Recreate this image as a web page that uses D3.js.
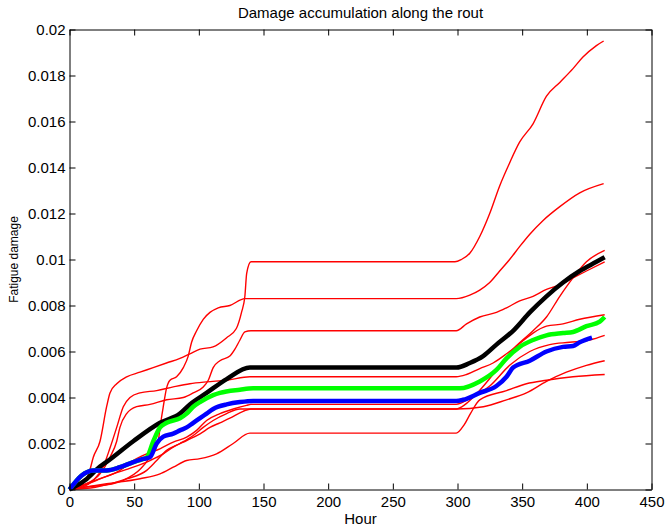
<!DOCTYPE html>
<html>
<head>
<meta charset="utf-8">
<script src="https://cdn.jsdelivr.net/npm/d3@7"></script>
<style>
  html, body { margin: 0; padding: 0; background: #fff; }
  svg { display: block; font-family: "Liberation Sans", Arial, sans-serif; }
</style>
</head>
<body>
<svg id="chart" width="667" height="527"></svg>
<script>
// ticks
const xTicks = [0, 50, 100, 150, 200, 250, 300, 350, 400, 450];
const yTicks = [0, 0.002, 0.004, 0.006, 0.008, 0.01, 0.012, 0.014, 0.016, 0.018, 0.02];
const yTickLabels = ["0", "0.002", "0.004", "0.006", "0.008", "0.01", "0.012", "0.014", "0.016", "0.018", "0.02"];

// individual runs, [hour, damage]
const run1 = [[0,0],[6,0.0001],[11,0.0003],[15,0.0007],[18.4,0.0014],[23.6,0.0021],[28.7,0.0036],[31.3,0.0042],[36.5,0.0046],[44.2,0.0049],[54.5,0.0051],[64.7,0.0053],[75,0.0055],[85.4,0.0057],[93,0.0059],[100.9,0.0061],[111,0.0062],[121.5,0.0066],[129,0.0070],[133,0.0077],[135.6,0.0084],[137,0.0094],[140.3,0.0099],[298,0.0099],[303,0.0100],[309.5,0.01027],[317.2,0.0110],[324.9,0.0120],[332.6,0.0132],[340.3,0.0142],[348,0.0151],[358.4,0.0159],[368.8,0.0171],[379.1,0.0177],[389.3,0.0183],[397,0.0188],[407.4,0.0193],[413,0.0195]];
const run2 = [[0,0],[10,0.0001],[20,0.00015],[28.7,0.0002],[41.6,0.0004],[55,0.0009],[62,0.0014],[68.6,0.0021],[70,0.0027],[72.5,0.0036],[75,0.0044],[77.7,0.00475],[82.8,0.0049],[88,0.0053],[91.8,0.0058],[94.4,0.0064],[98.3,0.0069],[103.4,0.0074],[108.6,0.0077],[115,0.0079],[124,0.0080],[135.6,0.0083],[140.3,0.0083],[299,0.0083],[309.5,0.00845],[317.2,0.00867],[324.9,0.0090],[332.6,0.0095],[340.3,0.0100],[348,0.01056],[355.9,0.0111],[366.2,0.0117],[379.1,0.0123],[394.5,0.0129],[413,0.0133]];
const run3 = [[0,0],[8,0.0001],[13.3,0.00025],[23.6,0.00068],[31.3,0.0014],[36.5,0.0021],[39,0.0027],[44.2,0.0033],[51.9,0.0036],[62.2,0.0037],[75.1,0.0039],[88,0.0040],[95.7,0.0042],[103.4,0.00446],[107.3,0.00475],[111.1,0.0053],[116.3,0.0056],[124,0.0058],[127.9,0.0061],[131.8,0.0065],[135.6,0.00685],[140.3,0.0069],[299,0.0069],[307,0.0072],[317.2,0.0075],[330.1,0.0077],[337.9,0.0079],[348.1,0.0082],[358.4,0.0084],[368.8,0.0087],[379.1,0.0089],[389.3,0.0092],[399.7,0.0095],[413.8,0.0099]];
const run4 = [[0,0],[10,0.0001],[18.4,0.0004],[26.1,0.001],[31.3,0.0018],[36.5,0.0027],[41.6,0.0036],[46.8,0.0040],[54.5,0.0042],[67.4,0.0043],[80.2,0.00446],[93.1,0.0046],[106,0.00468],[121.5,0.00475],[139.5,0.0049],[299,0.0049],[307,0.0050],[317.2,0.00526],[327.5,0.0055],[337.9,0.0059],[348.1,0.00635],[358.4,0.0068],[368.8,0.0071],[381.6,0.0072],[394.5,0.0074],[413.8,0.0076]];
const run5 = [[0,0],[20,0.0001],[44.2,0.00046],[59.7,0.00083],[67.4,0.00126],[75.1,0.0017],[85.4,0.002],[95.7,0.00235],[103.4,0.0027],[111.1,0.003],[121.5,0.0033],[131.8,0.0035],[140.3,0.0035],[299,0.0035],[306,0.0037],[312,0.0040],[327.5,0.0050],[343,0.0061],[358.4,0.0069],[368.8,0.0075],[379.1,0.0084],[389.3,0.0092],[399.7,0.0099],[413.8,0.0104]];
const run6 = [[0,0],[12,0.0002],[23.6,0.00046],[39,0.00083],[49.3,0.00126],[59.7,0.00155],[69.9,0.00177],[80.2,0.00206],[90.6,0.00228],[98.3,0.00257],[106,0.003],[116.3,0.0033],[126.6,0.0035],[136.9,0.00366],[140.3,0.0037],[299,0.0037],[309.5,0.00396],[324.9,0.0045],[340.3,0.0054],[355.9,0.006],[371.3,0.0063],[386.7,0.0064],[402.2,0.0065],[413.8,0.0067]];
const run7 = [[0,0],[15,0.0003],[33.8,0.00068],[49.3,0.00097],[62.2,0.00126],[72.5,0.00155],[80.2,0.00184],[90.6,0.00213],[100.9,0.00242],[108.6,0.0027],[116.3,0.0029],[124,0.0031],[134.3,0.0034],[140.3,0.0035],[299,0.0035],[320,0.0036],[337.9,0.0039],[353.3,0.0042],[368.8,0.0047],[384.2,0.0051],[399.7,0.0054],[413.8,0.0056]];
const run8 = [[0,0],[28.7,0.00025],[54.5,0.00047],[70,0.00068],[80.2,0.00097],[90.6,0.00126],[100.9,0.00134],[113.7,0.00155],[126.6,0.002],[139.5,0.00245],[299,0.00245],[305,0.0028],[310,0.0033],[317.2,0.0039],[337.9,0.0043],[353.3,0.0046],[368.8,0.00475],[389.3,0.0049],[413.8,0.005]];

// summary curves
const blackCurve = [[0,0],[12,0.0004],[23.6,0.001],[28.7,0.0012],[49.3,0.0021],[70,0.0029],[85.4,0.0033],[93.1,0.0037],[106,0.0042],[121.5,0.0048],[139.5,0.0053],[299.2,0.0053],[309.5,0.0055],[319.8,0.0058],[330.1,0.0063],[343,0.0069],[355.9,0.0077],[368.8,0.0084],[381.6,0.009],[394.5,0.0095],[407.4,0.0099],[413.8,0.0101]];
const greenCurve = [[0,0],[9.4,0.00061],[18.4,0.00083],[28.7,0.00083],[39,0.00097],[49.3,0.00119],[57,0.00133],[59.7,0.0014],[64.8,0.0021],[70,0.0027],[75.1,0.0029],[85.4,0.0031],[90.6,0.0033],[95.7,0.0036],[100.9,0.0038],[111.1,0.0041],[116.3,0.0042],[131.8,0.00434],[142,0.0044],[299,0.0044],[301.8,0.0044],[317.2,0.0047],[330.1,0.0052],[337.9,0.0057],[348.1,0.0062],[358.4,0.0065],[368.8,0.0067],[381.6,0.0068],[389.3,0.00685],[399.7,0.0071],[410,0.0073],[413.8,0.0075]];
const blueCurve = [[0,0],[9.4,0.00061],[18.4,0.00083],[28.7,0.00083],[39,0.00097],[49.3,0.00119],[57,0.00133],[62.2,0.0014],[67.4,0.002],[72.5,0.0023],[80.2,0.00243],[85.4,0.00257],[90.6,0.0027],[95.7,0.0029],[100.9,0.0031],[106,0.0033],[111.1,0.0035],[115,0.0036],[121.5,0.0037],[131.8,0.0038],[142,0.00385],[299,0.00385],[304.3,0.0039],[317.2,0.0042],[330.1,0.0045],[337.9,0.0049],[343,0.0053],[355.9,0.0056],[368.8,0.006],[381.6,0.0062],[389.3,0.00624],[394.5,0.0064],[404,0.0066]];

const runs = [run1, run2, run3, run4, run5, run6, run7, run8];

const svg = d3.select("#chart");
const plotLeft = 69.5, plotRight = 651.5, plotTop = 29.5, plotBottom = 489.5;

const x = d3.scaleLinear().domain([0, 450]).range([plotLeft, plotRight]);
const y = d3.scaleLinear().domain([0, 0.02]).range([plotBottom, plotTop]);

const line = d3.line()
  .x((d) => x(d[0]))
  .y((d) => y(d[1]))
  .curve(d3.curveMonotoneX);

const plot = svg.append("g");

plot.selectAll("path.run")
  .data(runs)
  .join("path")
  .attr("class", "run")
  .attr("fill", "none")
  .attr("stroke", "#ff0000")
  .attr("stroke-width", 1.4)
  .attr("d", line);

// mean / bounds drawn over the runs
[[blackCurve, "#000000"], [greenCurve, "#00ff00"], [blueCurve, "#0000ff"]].forEach(([d, c]) => {
  plot.append("path")
    .datum(d)
    .attr("fill", "none")
    .attr("stroke", c)
    .attr("stroke-width", 4.5)
    .attr("stroke-linejoin", "round")
    .attr("d", line);
});

// boxed axes, ticks pointing inward
const fontSize = 15;
const styleAxis = (g) => {
  g.select(".domain").attr("stroke", "#000").attr("stroke-width", 1);
  g.selectAll(".tick line").attr("stroke", "#000").attr("stroke-width", 1);
  g.selectAll(".tick text").attr("fill", "#000").style("font-size", fontSize + "px")
    .style("font-family", "'Liberation Sans', Arial, sans-serif");
};

svg.append("g")
  .attr("transform", `translate(0,${plotBottom})`)
  .call(d3.axisBottom(x).tickValues(xTicks).tickSizeInner(-6).tickSizeOuter(0).tickPadding(7))
  .call(styleAxis);

svg.append("g")
  .attr("transform", `translate(0,${plotTop})`)
  .call(d3.axisTop(x).tickValues(xTicks).tickFormat("").tickSizeInner(-6).tickSizeOuter(0))
  .call(styleAxis);

svg.append("g")
  .attr("transform", `translate(${plotLeft},0)`)
  .call(d3.axisLeft(y).tickValues(yTicks).tickFormat((d, i) => yTickLabels[i]).tickSizeInner(-6).tickSizeOuter(0).tickPadding(4))
  .call(styleAxis);

svg.append("g")
  .attr("transform", `translate(${plotRight},0)`)
  .call(d3.axisRight(y).tickValues(yTicks).tickFormat("").tickSizeInner(-6).tickSizeOuter(0))
  .call(styleAxis);

svg.append("text")
  .attr("x", (plotLeft + plotRight) / 2)
  .attr("y", 18)
  .attr("text-anchor", "middle")
  .style("font-size", "15px")
  .text("Damage accumulation along the rout");

svg.append("text")
  .attr("x", (plotLeft + plotRight) / 2)
  .attr("y", 524)
  .attr("text-anchor", "middle")
  .style("font-size", "15px")
  .text("Hour");

svg.append("text")
  .attr("transform", `translate(18,${(plotTop + plotBottom) / 2}) rotate(-90)`)
  .attr("text-anchor", "middle")
  .style("font-size", "12px")
  .text("Fatigue damage");
</script>
</body>
</html>
